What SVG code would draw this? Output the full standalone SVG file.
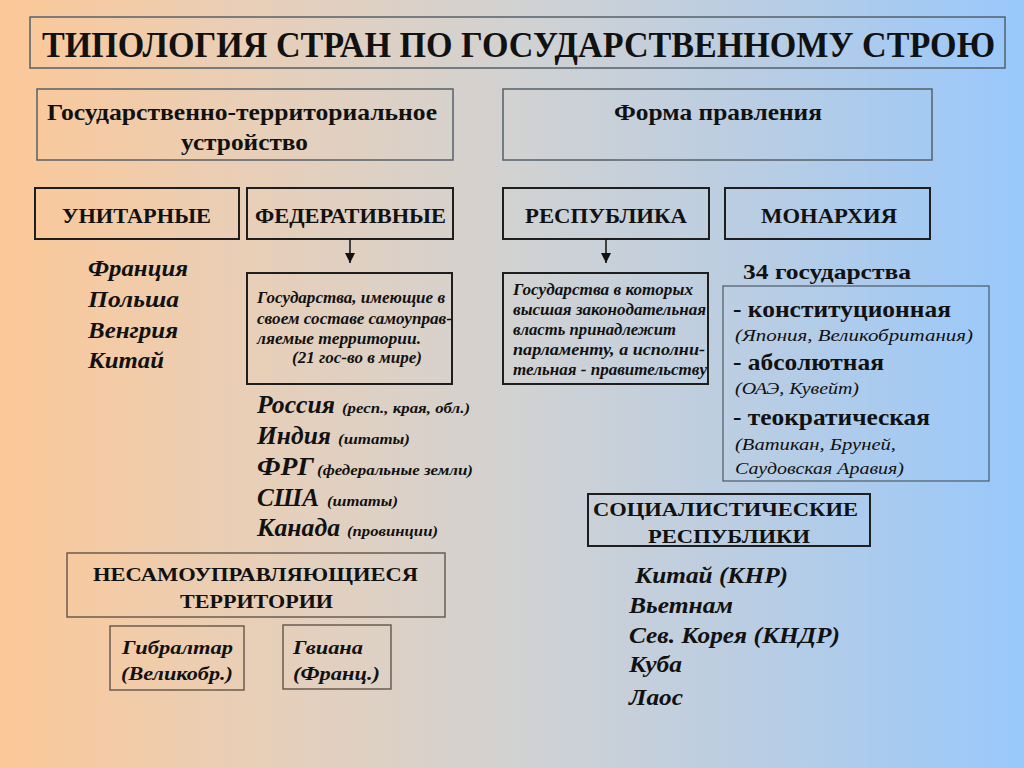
<svg xmlns="http://www.w3.org/2000/svg" width="1024" height="768" viewBox="0 0 1024 768" font-family="'Liberation Serif', 'Times New Roman', Times, serif">
<defs>
<linearGradient id="bg" x1="0" y1="0" x2="1" y2="0">
<stop offset="0" stop-color="#fcc898"/>
<stop offset="0.25" stop-color="#e8cfb8"/>
<stop offset="0.5" stop-color="#d2d2d2"/>
<stop offset="0.75" stop-color="#b8cde4"/>
<stop offset="1" stop-color="#98c8fc"/>
</linearGradient>
<marker id="arr" viewBox="0 0 10 10" refX="10" refY="5" markerWidth="10" markerHeight="10" markerUnits="userSpaceOnUse" orient="auto">
<path d="M0,0 L10,5 L0,10 Z" fill="#111"/>
</marker>
<style>
text{fill:#111;}
.b{font-weight:bold;}
.bi{font-weight:bold;font-style:italic;}
.i{font-style:italic;}
.box1{fill:none;stroke:#55606a;stroke-width:1.5;}
.box2{fill:none;stroke:#1e1e1e;stroke-width:2;}
.box3{fill:none;stroke:#6a5c50;stroke-width:1.5;}
.conn{stroke:#111;stroke-width:1.5;fill:none;}
</style>
</defs>
<rect x="0" y="0" width="1024" height="768" fill="url(#bg)"/>

<g id="title">
<rect class="box1" x="30" y="17" width="975" height="51"/>
<text class="b" transform="translate(42,57) scale(0.88,1)" x="0" y="0" font-size="36" textLength="1083" lengthAdjust="spacingAndGlyphs">ТИПОЛОГИЯ СТРАН ПО ГОСУДАРСТВЕННОМУ СТРОЮ</text>
</g>

<g id="node-gtu">
<rect class="box1" x="37" y="89" width="416" height="71"/>
<text class="b" x="47" y="120" font-size="23" textLength="390" lengthAdjust="spacingAndGlyphs">Государственно-территориальное</text>
<text class="b" x="181" y="150" font-size="23" textLength="127" lengthAdjust="spacingAndGlyphs">устройство</text>
</g>

<g id="node-fp">
<rect class="box1" x="503" y="89" width="429" height="71"/>
<text class="b" x="614" y="120" font-size="23" textLength="208" lengthAdjust="spacingAndGlyphs">Форма правления</text>
</g>

<g id="node-unit">
<rect class="box2" x="35" y="188" width="204" height="51"/>
<text class="b" x="62" y="223" font-size="20" textLength="149" lengthAdjust="spacingAndGlyphs">УНИТАРНЫЕ</text>
</g>
<g id="node-fed">
<rect class="box2" x="247" y="188" width="206" height="51"/>
<text class="b" x="255" y="223" font-size="20" textLength="191" lengthAdjust="spacingAndGlyphs">ФЕДЕРАТИВНЫЕ</text>
</g>
<g id="node-rep">
<rect class="box2" x="503" y="188" width="206" height="51"/>
<text class="b" x="525" y="223" font-size="20" textLength="162" lengthAdjust="spacingAndGlyphs">РЕСПУБЛИКА</text>
</g>
<g id="node-mon">
<rect class="box2" x="725" y="188" width="205" height="51"/>
<text class="b" x="761" y="223" font-size="20" textLength="136" lengthAdjust="spacingAndGlyphs">МОНАРХИЯ</text>
</g>

<g id="connectors">
<line class="conn" x1="350" y1="239" x2="350" y2="263" marker-end="url(#arr)"/>
<line class="conn" x1="606" y1="239" x2="606" y2="263" marker-end="url(#arr)"/>
</g>

<g id="node-unit-list">
<text class="bi" x="88" y="276" font-size="24" textLength="100" lengthAdjust="spacingAndGlyphs">Франция</text>
<text class="bi" x="88" y="307" font-size="24" textLength="91" lengthAdjust="spacingAndGlyphs">Польша</text>
<text class="bi" x="88" y="338" font-size="24" textLength="90" lengthAdjust="spacingAndGlyphs">Венгрия</text>
<text class="bi" x="88" y="368" font-size="24" textLength="76" lengthAdjust="spacingAndGlyphs">Китай</text>
</g>

<g id="node-fed-desc">
<rect class="box2" x="247" y="273" width="205" height="111"/>
<text class="bi" x="257" y="303" font-size="16" textLength="188" lengthAdjust="spacingAndGlyphs">Государства, имеющие в</text>
<text class="bi" x="257" y="324" font-size="16" textLength="195" lengthAdjust="spacingAndGlyphs">своем составе самоуправ-</text>
<text class="bi" x="257" y="344" font-size="16" textLength="164" lengthAdjust="spacingAndGlyphs">ляемые территории.</text>
<text class="bi" x="292" y="363" font-size="16" textLength="130" lengthAdjust="spacingAndGlyphs">(21 гос-во в мире)</text>
</g>

<g id="node-rep-desc">
<rect class="box2" x="503" y="273" width="205" height="111"/>
<text class="bi" x="513" y="295" font-size="16" textLength="180" lengthAdjust="spacingAndGlyphs">Государства в которых</text>
<text class="bi" x="513" y="315" font-size="16" textLength="193" lengthAdjust="spacingAndGlyphs">высшая законодательная</text>
<text class="bi" x="513" y="335" font-size="16" textLength="163" lengthAdjust="spacingAndGlyphs">власть принадлежит</text>
<text class="bi" x="513" y="355" font-size="16" textLength="192" lengthAdjust="spacingAndGlyphs">парламенту, а исполни-</text>
<text class="bi" x="513" y="375" font-size="16" textLength="194" lengthAdjust="spacingAndGlyphs">тельная - правительству</text>
</g>

<g id="node-fed-list">
<text class="bi" x="257" y="413" font-size="25" textLength="78" lengthAdjust="spacingAndGlyphs">Россия</text>
<text class="bi" x="342" y="413" font-size="14" textLength="128" lengthAdjust="spacingAndGlyphs">(респ., края, обл.)</text>
<text class="bi" x="257" y="444" font-size="25" textLength="74" lengthAdjust="spacingAndGlyphs">Индия</text>
<text class="bi" x="338" y="444" font-size="14" textLength="72" lengthAdjust="spacingAndGlyphs">(штаты)</text>
<text class="bi" x="257" y="475" font-size="25" textLength="57" lengthAdjust="spacingAndGlyphs">ФРГ</text>
<text class="bi" x="317" y="475" font-size="14" textLength="156" lengthAdjust="spacingAndGlyphs">(федеральные земли)</text>
<text class="bi" x="257" y="506" font-size="25" textLength="62" lengthAdjust="spacingAndGlyphs">США</text>
<text class="bi" x="327" y="506" font-size="14" textLength="71" lengthAdjust="spacingAndGlyphs">(штаты)</text>
<text class="bi" x="257" y="536" font-size="25" textLength="83" lengthAdjust="spacingAndGlyphs">Канада</text>
<text class="bi" x="347" y="536" font-size="14" textLength="91" lengthAdjust="spacingAndGlyphs">(провинции)</text>
</g>

<g id="node-nonself">
<rect class="box3" x="67" y="553" width="378" height="64"/>
<text class="b" x="93" y="581" font-size="19" textLength="325" lengthAdjust="spacingAndGlyphs">НЕСАМОУПРАВЛЯЮЩИЕСЯ</text>
<text class="b" x="180" y="608" font-size="19" textLength="153" lengthAdjust="spacingAndGlyphs">ТЕРРИТОРИИ</text>
</g>

<g id="node-gib">
<rect class="box3" x="110" y="626" width="134" height="64"/>
<text class="bi" x="122" y="654" font-size="19" textLength="111" lengthAdjust="spacingAndGlyphs">Гибралтар</text>
<text class="bi" x="121" y="680" font-size="19" textLength="112" lengthAdjust="spacingAndGlyphs">(Великобр.)</text>
</g>

<g id="node-gui">
<rect class="box3" x="283" y="625" width="108" height="64"/>
<text class="bi" x="293" y="654" font-size="19" textLength="70" lengthAdjust="spacingAndGlyphs">Гвиана</text>
<text class="bi" x="293" y="680" font-size="19" textLength="87" lengthAdjust="spacingAndGlyphs">(Франц.)</text>
</g>

<g id="node-mon-list">
<text class="b" x="743" y="279" font-size="22" textLength="168" lengthAdjust="spacingAndGlyphs">34 государства</text>
<rect x="723" y="286" width="266" height="195" fill="none" stroke="#4e5a66" stroke-width="1.2"/>
<text class="b" x="733" y="317" font-size="23" textLength="218" lengthAdjust="spacingAndGlyphs">- конституционная</text>
<text class="i" x="735" y="341" font-size="17" textLength="238" lengthAdjust="spacingAndGlyphs">(Япония, Великобритания)</text>
<text class="b" x="733" y="370" font-size="23" textLength="151" lengthAdjust="spacingAndGlyphs">- абсолютная</text>
<text class="i" x="735" y="394" font-size="17" textLength="124" lengthAdjust="spacingAndGlyphs">(ОАЭ, Кувейт)</text>
<text class="b" x="733" y="425" font-size="23" textLength="197" lengthAdjust="spacingAndGlyphs">- теократическая</text>
<text class="i" x="735" y="450" font-size="17" textLength="161" lengthAdjust="spacingAndGlyphs">(Ватикан, Бруней,</text>
<text class="i" x="735" y="474" font-size="17" textLength="169" lengthAdjust="spacingAndGlyphs">Саудовская Аравия)</text>
</g>

<g id="node-soc">
<rect class="box2" x="588" y="494" width="282" height="52"/>
<text class="b" x="593" y="516" font-size="19" textLength="265" lengthAdjust="spacingAndGlyphs">СОЦИАЛИСТИЧЕСКИЕ</text>
<text class="b" x="648" y="543" font-size="19" textLength="162" lengthAdjust="spacingAndGlyphs">РЕСПУБЛИКИ</text>
</g>

<g id="node-soc-list">
<text class="bi" x="635" y="583" font-size="24" textLength="153" lengthAdjust="spacingAndGlyphs">Китай (КНР)</text>
<text class="bi" x="629" y="613" font-size="24" textLength="104" lengthAdjust="spacingAndGlyphs">Вьетнам</text>
<text class="bi" x="629" y="643" font-size="24" textLength="211" lengthAdjust="spacingAndGlyphs">Сев. Корея (КНДР)</text>
<text class="bi" x="629" y="672" font-size="24" textLength="53" lengthAdjust="spacingAndGlyphs">Куба</text>
<text class="bi" x="629" y="705" font-size="24" textLength="54" lengthAdjust="spacingAndGlyphs">Лаос</text>
</g>
</svg>
